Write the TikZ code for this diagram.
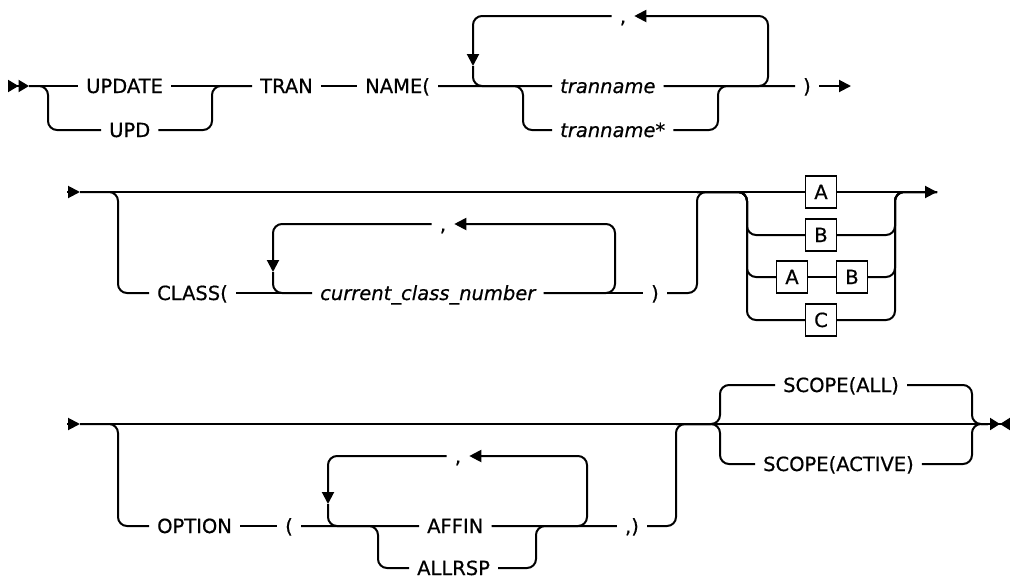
\documentclass[tikz,border=0pt]{standalone}
\usepackage{fontspec}
\setmainfont{DejaVu Sans}[FakeBold=0.6]
\usetikzlibrary{arrows.meta}

\begin{document}
\begin{tikzpicture}[
            x=1pt, y=-1pt,
            rail/.style={line width=2pt, rounded corners=9pt},
            > = {Triangle[length=12pt, width=12pt]},
            lbl/.style={font=\fontsize{19.5}{22}\selectfont, inner xsep=8pt, inner ysep=0pt, text height=14pt, text depth=0pt},
            var/.style={lbl, font=\fontsize{19.5}{22}\selectfont\itshape},
            kbox/.style={draw, line width=1.4pt, minimum width=31pt, minimum height=32pt, inner sep=0pt,
                    font=\fontsize{19.5}{22}\selectfont, text height=14pt, text depth=0pt}
        ]
        \useasboundingbox (0,0) rectangle (1010,579);

        % row 1
        \coordinate (r1s) at (8,86);
        \coordinate (r1e) at (29,86);
        \coordinate (r1a) at (48,86);
        \coordinate (r1b) at (212,86);
        \coordinate (r1c) at (523,86);
        \coordinate (r1d) at (718,86);
        \coordinate (r1l) at (473,66);
        \coordinate (r1r) at (768,86);
        \coordinate (r1t) at (851,86);
        \node[lbl, anchor=west] (update) at (78,86) {UPDATE};
        \node[lbl, anchor=west] (upd) at (101,130) {UPD};
        \node[lbl, anchor=west] (tran) at (252,86) {TRAN};
        \node[lbl, anchor=west] (name) at (357,86) {NAME(};
        \node[var, anchor=west] (tn) at (552,86) {tranname};
        \node[var, anchor=west] (tns) at (552,130) {tranname*};
        \node[lbl] (close1) at (807,86) {)};
        \node[lbl] (c1) at (623,16) {,};

        \draw[rail, -{Triangle[length=10.5pt, width=12pt]Triangle[length=10.5pt, width=12pt]}] (r1s) -- (r1e);
        \draw[rail] (r1e) -- (update.west) (update.east) -- (tran.west) (tran.east) -- (name.west)
            (name.east) -- (tn.west) (tn.east) -- (close1.west);
        \draw[rail, ->] (close1.east) -- (r1t);
        \draw[rail] (r1e) -- (r1a) |- (upd.west);
        \draw[rail] (upd.east) -| (r1b) -- (tran.west);
        \draw[rail] (name.east) -- (r1c) |- (tns.west);
        \draw[rail] (tns.east) -| (r1d) -- (close1.west);
        \draw[rail, ->] (tn.east) -- (r1r) |- (c1.east);
        \draw[rail, ->] (c1.west) -| (r1l);
        \draw[rail] (r1l) |- (tn.west);

        % row 2
        \coordinate (r2s) at (67,192);
        \coordinate (r2e) at (80,192);
        \coordinate (r2a) at (118,192);
        \coordinate (r2b) at (697,192);
        \coordinate (r2c) at (747,192);
        \coordinate (r2d) at (895,192);
        \coordinate (r2t) at (937,192);
        \coordinate (r2l) at (273,272);
        \coordinate (r2r) at (615,293);
        \node[lbl, anchor=west] (class) at (149,293) {CLASS(};
        \node[var, anchor=west] (ccn) at (312,293) {current\_class\_number};
        \node[lbl] (close2) at (655,293) {)};
        \node[lbl] (c2) at (443,224) {,};
        \node[kbox] (ka) at (821,192) {A};
        \node[kbox] (kb) at (821,235) {B};
        \node[kbox] (kab1) at (792,277) {A};
        \node[kbox] (kab2) at (852,277) {B};
        \node[kbox] (kc) at (821,320) {C};

        \draw[rail, ->] (r2s) -- (r2e);
        \draw[rail] (r2e) -- (ka.west);
        \draw[rail, ->] (ka.east) -- (r2t);
        \draw[rail] (r2e) -- (r2a) |- (class.west);
        \draw[rail] (class.east) -- (ccn.west) (ccn.east) -- (close2.west);
        \draw[rail] (close2.east) -| (r2b) -- (r2c);
        \draw[rail, ->] (ccn.east) -- (r2r) |- (c2.east);
        \draw[rail, ->] (c2.west) -| (r2l);
        \draw[rail] (r2l) |- (ccn.west);
        \draw[rail] (r2b) -- (r2c) |- (kb.west);
        \draw[rail] (r2b) -- (r2c) |- (kab1.west);
        \draw[rail] (r2b) -- (r2c) |- (kc.west);
        \draw[rail] (kab1.east) -- (kab2.west);
        \draw[rail] (kb.east) -| (r2d) -- (r2t);
        \draw[rail] (kab2.east) -| (r2d) -- (r2t);
        \draw[rail] (kc.east) -| (r2d) -- (r2t);

        % row 3
        \coordinate (r3s) at (67,424);
        \coordinate (r3e) at (80,424);
        \coordinate (r3a) at (118,424);
        \coordinate (r3b) at (676,424);
        \coordinate (r3c) at (378,526);
        \coordinate (r3d) at (536,526);
        \coordinate (r3f) at (720,424);
        \coordinate (r3g) at (972,424);
        \coordinate (r3h) at (988,424);
        \coordinate (r3t) at (1010,424);
        \coordinate (r3l) at (328,504);
        \coordinate (r3r) at (587,526);
        \node[lbl, anchor=west] (option) at (149,526) {OPTION};
        \node[lbl] (open3) at (289,526) {(};
        \node[lbl, anchor=west] (affin) at (419,526) {AFFIN};
        \node[lbl, anchor=west] (allrsp) at (409,568) {ALLRSP};
        \node[lbl] (close3) at (632,526) {,)};
        \node[lbl] (c3) at (458,456) {,};
        \node[lbl, anchor=west] (all) at (775,385) {SCOPE(ALL)};
        \node[lbl, anchor=west] (active) at (755,464) {SCOPE(ACTIVE)};

        \draw[rail, ->] (r3s) -- (r3e);
        \draw[rail] (r3e) -- (r3g);
        \draw[rail, -{Triangle[length=10pt, width=12pt]Triangle[length=10pt, width=12pt, reversed]}] (r3g) -- (r3t);
        \draw[rail] (r3e) -- (r3a) |- (option.west);
        \draw[rail] (option.east) -- (open3.west) (open3.east) -- (affin.west) (affin.east) -- (close3.west);
        \draw[rail] (close3.east) -| (r3b) -- (r3f);
        \draw[rail] (open3.east) -- (r3c) |- (allrsp.west);
        \draw[rail] (allrsp.east) -| (r3d) -- (close3.west);
        \draw[rail, ->] (affin.east) -- (r3r) |- (c3.east);
        \draw[rail, ->] (c3.west) -| (r3l);
        \draw[rail] (r3l) |- (affin.west);
        \draw[rail] (r3b) -- (r3f) |- (all.west);
        \draw[rail] (r3b) -- (r3f) |- (active.west);
        \draw[rail] (all.east) -| (r3g) -- (r3h);
        \draw[rail] (active.east) -| (r3g) -- (r3h);
    \end{tikzpicture}
\end{document}
